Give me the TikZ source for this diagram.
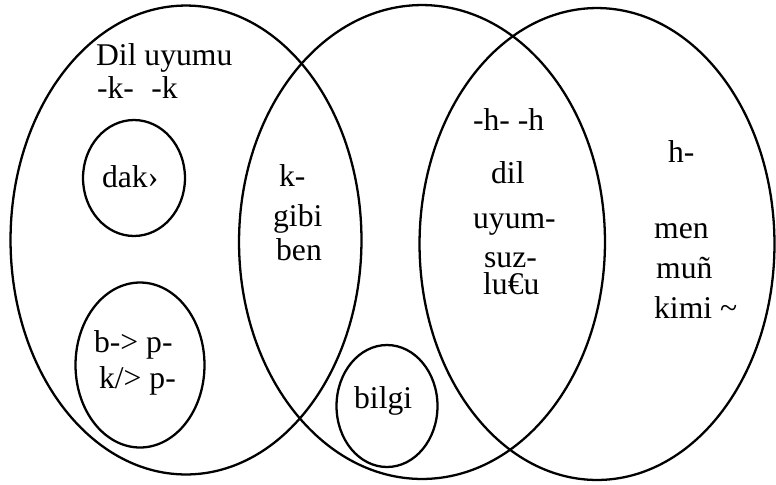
\documentclass[tikz,border=0pt]{standalone}
\usepackage{fontspec}
\setmainfont{Liberation Serif}
\usetikzlibrary{shapes.geometric}
\begin{document}
\begin{tikzpicture}[x=0.02cm, y=-0.02cm, line width=1.3pt,
    every node/.style={font=\fontsize{18}{21}\selectfont, inner sep=0pt},
    oval/.style={draw, ellipse, inner sep=0pt},
    txt/.style={anchor=base west}]
    \useasboundingbox (0,0) rectangle (776,484);
    \node[oval, minimum width=7.02cm, minimum height=9.38cm] (l) at (186, 240) {};
    \node[oval, minimum width=7.32cm, minimum height=9.48cm] (m) at (422, 242) {};
    \node[oval, minimum width=7.10cm, minimum height=9.44cm] (r) at (597, 244) {};
    \node[oval, minimum width=2.04cm, minimum height=2.32cm] (d) at (134, 178) {};
    \node[oval, minimum width=2.58cm, minimum height=3.30cm] (b) at (140, 365) {};
    \node[oval, minimum width=2.02cm, minimum height=2.44cm] (g) at (387, 406) {};
    \node[txt] (du) at (95, 65) {Dil uyumu};
    \node[txt] (kk) at (96, 98) {-k-\hspace{0.55em}-k};
    \node[txt] (dk) at (101, 187) {dak›};
    \node[txt] (bp) at (93, 352) {b-> p-};
    \node[txt] (kp) at (98, 388) {k/> p-};
    \node[txt] (k) at (278, 186) {k-};
    \node[txt] (gb) at (272, 226) {gibi};
    \node[txt] (bn) at (275, 260) {ben};
    \node[txt] (bl) at (353, 408) {bilgi};
    \node[txt] (hh) at (472, 130) {-h- -h};
    \node[txt] (dl) at (490, 183) {dil};
    \node[txt] (uy) at (472, 228) {uyum-};
    \node[txt] (sz) at (483, 267) {suz-};
    \node[txt] (lu) at (482, 294) {lu€u};
    \node[txt] (h) at (667, 162) {h-};
    \node[txt] (mn) at (653, 238) {men};
    \node[txt] (mu) at (655, 278) {muñ};
    \node[txt] (km) at (653, 318) {kimi \textasciitilde};
\end{tikzpicture}
\end{document}
